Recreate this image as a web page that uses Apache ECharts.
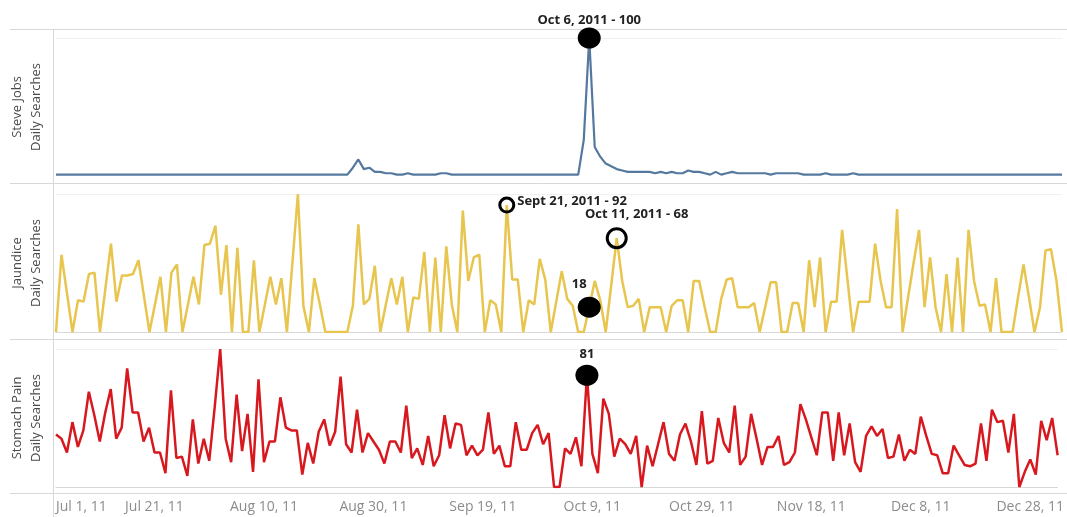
<!DOCTYPE html>
<html>
<head>
<meta charset="utf-8">
<script src="https://cdn.jsdelivr.net/npm/echarts@6/dist/echarts.min.js"></script>
<style>
html, body { margin: 0; padding: 0; background: #fff; }
#chart { width: 1067px; height: 517px; }
</style>
</head>
<body>
<div id="chart"></div>
<script>
const monthNames = ['Jan', 'Feb', 'Mar', 'Apr', 'May', 'Jun', 'Jul', 'Aug', 'Sep', 'Oct', 'Nov', 'Dec'];

// one category per day, Jul 1 - Dec 31, 2011
const days = [];
for (let d = new Date(2011, 6, 1); d <= new Date(2011, 11, 31); d.setDate(d.getDate() + 1)) {
    days.push(monthNames[d.getMonth()] + ' ' + d.getDate() + ', 11');
}

const steveJobs = [
    1, 1, 1, 1, 1, 1, 1, 1, 1, 1,
    1, 1, 1, 1, 1, 1, 1, 1, 1, 1,
    1, 1, 1, 1, 1, 1, 1, 1, 1, 1,
    1, 1, 1, 1, 1, 1, 1, 1, 1, 1,
    1, 1, 1, 1, 1, 1, 1, 1, 1, 1,
    1, 1, 1, 1, 6, 12, 5, 6, 3, 3,
    2, 2, 1, 1, 2, 1, 1, 1, 1, 1,
    2, 2, 1, 1, 1, 1, 1, 1, 1, 1,
    1, 1, 1, 1, 1, 1, 1, 1, 1, 1,
    1, 1, 1, 1, 1, 1, 26, 100, 21, 14,
    9, 7, 5, 4, 3, 3, 3, 3, 3, 2,
    3, 2, 3, 2, 2, 4, 3, 3, 2, 1,
    3, 1, 2, 3, 2, 2, 2, 2, 2, 2,
    1, 2, 2, 2, 2, 2, 1, 1, 1, 1,
    2, 1, 1, 1, 1, 2, 1, 1, 1, 1,
    1, 1, 1, 1, 1, 1, 1, 1, 1, 1,
    1, 1, 1, 1, 1, 1, 1, 1, 1, 1,
    1, 1, 1, 1, 1, 1, 1, 1, 1, 1,
    1, 1, 1, 1
];

const jaundice = [
    0, 56, 28, 0, 23, 22, 42, 43, 0, 32,
    64, 22, 41, 41, 42, 52, 26, 0, 20, 40,
    0, 43, 49, 0, 20, 40, 20, 63, 64, 77,
    27, 63, 0, 61, 0, 0, 52, 0, 20, 40,
    20, 39, 0, 50, 100, 19, 0, 39, 20, 0,
    0, 0, 0, 0, 19, 78, 20, 24, 48, 0,
    20, 39, 20, 40, 0, 25, 24, 58, 0, 54,
    0, 62, 20, 0, 88, 37, 54, 56, 0, 23,
    20, 0, 92, 38, 38, 0, 23, 20, 53, 38,
    0, 22, 44, 24, 19, 0, 0, 18, 37, 23,
    0, 34, 68, 37, 18, 19, 24, 0, 18, 18,
    18, 0, 19, 23, 23, 0, 37, 37, 18, 0,
    0, 24, 38, 39, 18, 18, 18, 21, 0, 18,
    36, 36, 0, 0, 21, 21, 0, 52, 18, 54,
    0, 22, 22, 74, 37, 0, 22, 22, 22, 64,
    37, 18, 18, 89, 0, 25, 50, 74, 18, 54,
    18, 0, 42, 0, 54, 0, 74, 37, 19, 20,
    0, 39, 0, 0, 0, 25, 49, 25, 0, 18,
    59, 60, 37, 0
];

const stomachPain = [
    38, 35, 25, 47, 29, 41, 69, 52, 33, 54,
    71, 35, 43, 86, 54, 54, 33, 43, 25, 25,
    10, 70, 21, 22, 8, 49, 17, 35, 19, 58,
    100, 35, 18, 67, 26, 53, 11, 78, 18, 33,
    33, 65, 43, 41, 41, 9, 32, 17, 40, 49,
    30, 40, 80, 31, 25, 56, 25, 39, 33, 27,
    17, 33, 33, 25, 59, 21, 28, 16, 37, 15,
    23, 52, 28, 46, 45, 23, 30, 23, 27, 54,
    24, 30, 15, 15, 47, 27, 27, 39, 45, 31,
    39, 0, 0, 28, 24, 36, 15, 81, 24, 10,
    64, 53, 22, 35, 31, 24, 37, 0, 30, 15,
    31, 47, 24, 19, 38, 46, 33, 16, 55, 17,
    19, 50, 32, 25, 59, 16, 22, 53, 35, 16,
    29, 29, 37, 16, 18, 25, 60, 49, 36, 23,
    54, 54, 19, 54, 23, 46, 18, 11, 37, 44,
    37, 42, 21, 22, 38, 19, 27, 24, 51, 37,
    24, 23, 10, 10, 30, 23, 16, 15, 17, 46,
    19, 56, 47, 48, 25, 53, 0, 11, 20, 9,
    48, 34, 50, 23
];

const seriesNames = ['Steve Jobs', 'Jaundice', 'Stomach Pain'];
const axisTitles = ['Steve Jobs\nDaily Searches', 'Jaundice\nDaily Searches', 'Stomach Pain\nDaily Searches'];
const seriesData = [steveJobs, jaundice, stomachPain];
const seriesColors = ['#55789f', '#e8c54e', '#d7191f'];

// annotations: [day, value, text, filled]
const jobsNotes = [['Oct 6, 11', 100, 'Oct 6, 2011 - 100', true]];
const jaundiceNotes = [
    ['Sep 21, 11', 92, 'Sept 21, 2011 - 92', false],
    ['Oct 11, 11', 68, 'Oct 11, 2011 - 68', false],
    ['Oct 6, 11', 18, '18', true]
];
const stomachNotes = [['Oct 6, 11', 81, '81', true]];
const notes = [jobsNotes, jaundiceNotes, stomachNotes];

const fontFamily = '"Open Sans", "Noto Sans", sans-serif';
const gridTops = [38, 194, 349];

var dom = document.getElementById('chart');
var myChart = echarts.init(dom, null, { renderer: 'canvas' });

function noteLabel(n) {
    const base = {
        show: true,
        formatter: n[2],
        color: '#222',
        fontSize: 13,
        fontWeight: 'bold',
        fontFamily: fontFamily
    };
    if (n[2].indexOf('Sept') === 0) {
        return Object.assign(base, { position: 'right', distance: 2, offset: [0, -4] });
    }
    if (n[2].indexOf('Oct 11') === 0) {
        return Object.assign(base, { position: 'top', distance: 6, offset: [20, 0] });
    }
    if (n[2] === '18') {
        return Object.assign(base, { position: 'top', distance: 6, offset: [-10, 0] });
    }
    if (n[2] === '81') {
        return Object.assign(base, { position: 'top', distance: 4 });
    }
    return Object.assign(base, { position: 'top', distance: 1 });
}

function noteItem(n) {
    return {
        coord: [n[0], n[1]],
        symbol: 'circle',
        symbolSize: n[3] ? [23, 21] : (n[2].indexOf('Sept') === 0 ? 14 : 19),
        itemStyle: n[3]
            ? { color: '#000' }
            : { color: 'rgba(0,0,0,0)', borderColor: '#000', borderWidth: 3 },
        label: noteLabel(n)
    };
}

const option = {
    animation: false,
    backgroundColor: '#fff',
    grid: gridTops.map(t => ({ left: 54, right: 5, top: t, height: 138 })),
    xAxis: seriesNames.map((s, i) => ({
        type: 'category',
        gridIndex: i,
        data: days,
        boundaryGap: false,
        axisTick: { show: false },
        axisLine: { show: i > 0, lineStyle: { color: '#cfcfcf', type: 'dotted' } },
        axisLabel: {
            show: i === 2,
            interval: 19,
            margin: 13,
            color: '#8c8c8c',
            fontSize: 14,
            fontFamily: fontFamily,
            padding: [0, 22, 0, 0],
            alignMinLabel: 'left'
        },
        splitLine: { show: false }
    })),
    yAxis: seriesNames.map((s, i) => ({
        type: 'value',
        gridIndex: i,
        min: 0,
        max: 100,
        interval: 100,
        axisLabel: { show: false },
        axisTick: { show: false },
        axisLine: { show: false },
        splitLine: { show: true, lineStyle: { color: ['rgba(0,0,0,0)', '#f0f0f0'] } },
        name: axisTitles[i],
        nameLocation: 'middle',
        nameGap: 10,
        nameTextStyle: { color: '#4a4a4a', fontSize: 13, lineHeight: 19, fontFamily: fontFamily }
    })),
    series: seriesNames.map((s, i) => ({
        name: s,
        type: 'line',
        xAxisIndex: i,
        yAxisIndex: i,
        data: seriesData[i],
        showSymbol: false,
        lineStyle: { color: seriesColors[i], width: i === 0 ? 2.2 : 2.5 },
        itemStyle: { color: seriesColors[i] },
        markPoint: {
            silent: true,
            data: notes[i].map(noteItem)
        }
    })),
    graphic: [
        { type: 'line', shape: { x1: 10, y1: 29.5, x2: 1067, y2: 29.5 }, style: { stroke: '#d8d8d8', lineWidth: 1 } },
        { type: 'line', shape: { x1: 10, y1: 183.5, x2: 1067, y2: 183.5 }, style: { stroke: '#d8d8d8', lineWidth: 1 } },
        { type: 'line', shape: { x1: 10, y1: 339.5, x2: 1067, y2: 339.5 }, style: { stroke: '#d8d8d8', lineWidth: 1 } },
        { type: 'line', shape: { x1: 10, y1: 493.5, x2: 1067, y2: 493.5 }, style: { stroke: '#d8d8d8', lineWidth: 1 } },
        { type: 'line', shape: { x1: 53.5, y1: 29, x2: 53.5, y2: 517 }, style: { stroke: '#d8d8d8', lineWidth: 1 } }
    ]
};

myChart.setOption(option);
window.addEventListener('resize', myChart.resize);
</script>
</body>
</html>
